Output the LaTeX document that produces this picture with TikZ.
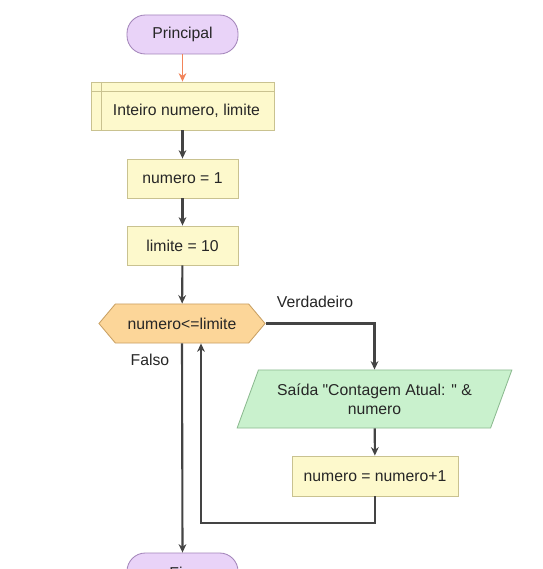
\documentclass[tikz,border=0pt]{standalone}
\usepackage{fontspec}
\newfontfamily\flowfont{Liberation Sans}
\usetikzlibrary{arrows.meta,shapes.geometric,shapes.symbols}

\definecolor{termfill}{HTML}{E9D3F8}
\definecolor{termline}{HTML}{A385BA}
\definecolor{procfill}{HTML}{FDF9CC}
\definecolor{procline}{HTML}{C9C290}
\definecolor{decfill}{HTML}{FCD699}
\definecolor{decline}{HTML}{C9A063}
\definecolor{iofill}{HTML}{C9F1CD}
\definecolor{ioline}{HTML}{8CBA90}
\definecolor{flowline}{HTML}{444444}
\definecolor{startline}{HTML}{F2845A}

\begin{document}
\begin{tikzpicture}[x=0.025cm,y=-0.025cm]
		\tikzstyle{every node}=[font=\flowfont\fontsize{11.2}{13.5}\selectfont, text=black!85]
		\tikzstyle{terminal}=[draw=termline, fill=termfill, line width=0.6pt, rounded corners=0.46cm, minimum width=2.775cm, minimum height=0.975cm]
		\tikzstyle{process}=[draw=procline, fill=procfill, line width=0.6pt, minimum width=2.775cm, minimum height=0.975cm]
		\tikzstyle{declare}=[process, minimum width=4.575cm, minimum height=1.2cm, text height=0.6cm, text depth=0.12cm,
			execute at begin node=\hspace*{0.2cm},
			path picture={
				\draw[procline, line width=0.6pt] ([xshift=0.25cm]path picture bounding box.north west) -- ([xshift=0.25cm]path picture bounding box.south west);
				\draw[procline, line width=0.6pt] ([yshift=-0.225cm]path picture bounding box.north west) -- ([yshift=-0.225cm]path picture bounding box.north east);}]
		\tikzstyle{decision}=[draw=decline, fill=decfill, line width=0.6pt, signal, signal to=west and east, signal pointer angle=100, minimum width=4.15cm, minimum height=0.975cm]
		\tikzstyle{inout}=[draw=ioline, fill=iofill, line width=0.6pt, trapezium, trapezium left angle=65, trapezium right angle=115, trapezium stretches=true, minimum width=6.875cm, minimum height=1.45cm, align=center]
		\tikzstyle{flow}=[draw=flowline, line width=1.5pt, -{Stealth[length=6pt,width=5.5pt]}]
		
		\useasboundingbox (0,0) rectangle (542,569);
		\fill[white] (0,0) rectangle (542,569);
		
		\node[terminal] (inicio) at (182.5,34.5) {Principal};
		\node[declare] (vars) at (182.5,106) {Inteiro numero, limite};
		\node[process] (atribnum) at (182.5,178.5) {numero = 1};
		\node[process] (atriblim) at (182.5,245.5) {limite = 10};
		\node[decision] (teste) at (182,323.5) {numero<=limite};
		\node[inout] (saida) at (374.5,399) {Saída "Contagem Atual: " \&\\numero};
		\node[process, minimum width=4.15cm, minimum height=1cm] (incr) at (375,476) {numero = numero+1};
		\node[terminal] (fim) at (182.5,572.5) {Fim};
		
		\node (verdadeiro) at (315,302) {Verdadeiro};
		\node (falso) at (150,360) {Falso};
		\coordinate (volta) at (201,523);
		
		\draw[flow, draw=startline, line width=1.1pt] (inicio) -- (vars);
		\draw[flow] (vars) -- (atribnum);
		\draw[flow] (atribnum) -- (atriblim);
		\draw[flow] (atriblim) -- (teste);
		\draw[flow] (teste.east) -| (saida.north);
		\draw[flow] (saida) -- (incr);
		\draw[flow] (incr.south) |- (volta) -- (teste.south -| volta);
		\draw[flow] (teste.south) -- (fim.north);
		
		\end{tikzpicture}
\end{document}
